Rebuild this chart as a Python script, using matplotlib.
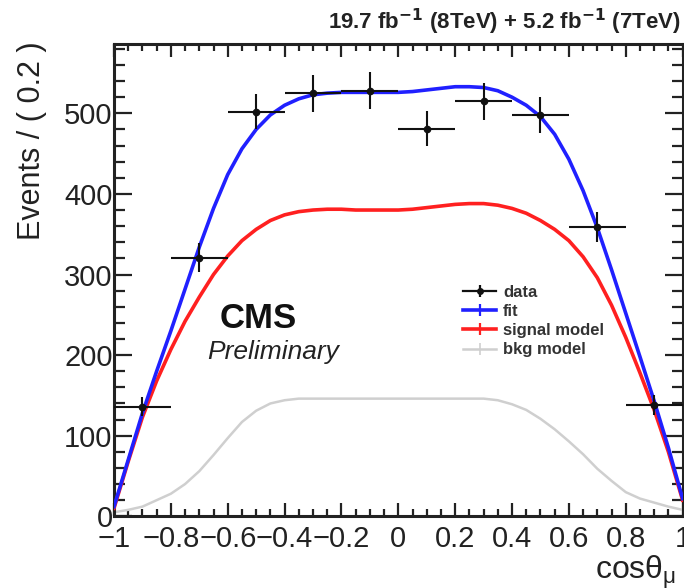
import matplotlib
matplotlib.use("Agg")
import matplotlib.pyplot as plt
from matplotlib.lines import Line2D
from matplotlib.ticker import MultipleLocator, FixedLocator, FixedFormatter
import numpy as np

plt.rcParams['font.family'] = ['Liberation Sans', 'DejaVu Sans']

# ---- data -----------------------------------------------------------
bin_centers = [-0.9, -0.7, -0.5, -0.3, -0.1, 0.1, 0.3, 0.5, 0.7, 0.9]
data_counts = [136, 321, 502, 525, 528, 481, 515, 498, 359, 138]
data_yerr = [12, 18, 22, 23, 23, 22, 23, 22, 19, 12]
bin_half_width = 0.1

curve_x = [-1.0, -0.95, -0.9, -0.85, -0.8, -0.75, -0.7, -0.65, -0.6, -0.55,
           -0.5, -0.45, -0.4, -0.35, -0.3, -0.25, -0.2, -0.15, -0.1, -0.05,
           0.0, 0.05, 0.1, 0.15, 0.2, 0.25, 0.3, 0.35, 0.4, 0.45,
           0.5, 0.55, 0.6, 0.65, 0.7, 0.75, 0.8, 0.85, 0.9, 0.95, 1.0]
fit_curve = [12, 70, 128, 180, 230, 282, 334, 382, 424, 456,
             480, 498, 510, 518, 523, 525, 526, 526, 526, 526,
             526, 527, 529, 531, 533, 533, 532, 528, 520, 510,
             496, 474, 443, 404, 358, 306, 252, 198, 143, 85, 22]
signal_curve = [10, 68, 123, 168, 207, 242, 272, 300, 323, 342,
                356, 367, 374, 378, 380, 381, 381, 380, 380, 380,
                380, 381, 383, 385, 387, 388, 388, 386, 382, 376,
                367, 356, 342, 322, 296, 262, 222, 178, 132, 80, 20]
bkg_curve = [5, 8, 12, 20, 28, 40, 56, 76, 97, 117,
             131, 140, 144, 146, 146, 146, 146, 146, 146, 146,
             146, 146, 146, 146, 146, 146, 146, 144, 139, 132,
             121, 108, 93, 77, 59, 44, 30, 22, 17, 12, 8]

xtick_vals = [-1, -0.8, -0.6, -0.4, -0.2, 0, 0.2, 0.4, 0.6, 0.8, 1]
xtick_labels = ["\u22121", "\u22120.8", "\u22120.6", "\u22120.4", "\u22120.2",
                "0", "0.2", "0.4", "0.6", "0.8", "1"]
ytick_vals = [0, 100, 200, 300, 400, 500]
ytick_labels = ["0", "100", "200", "300", "400", "500"]

legend_labels = ["data", "fit", "signal model", "bkg model"]
title_text = r"19.7 fb$^{\mathbf{-1}}$ (8TeV) + 5.2 fb$^{\mathbf{-1}}$ (7TeV)"

# ---- figure ---------------------------------------------------------
W, H = 684, 588
fig = plt.figure(figsize=(W / 100, H / 100), dpi=100)
ax = fig.add_axes([114 / W, 1 - 516.3 / H, (682.6 - 114) / W, (516.3 - 44) / H])

blue = '#2020ff'
red = '#ff2020'
grey = '#cfcfcf'

ax.plot(curve_x, bkg_curve, color=grey, lw=1.8, zorder=2)
ax.plot(curve_x, signal_curve, color=red, lw=2.6, zorder=3)
ax.plot(curve_x, fit_curve, color=blue, lw=2.6, zorder=4)
ax.errorbar(bin_centers, data_counts, yerr=data_yerr, xerr=bin_half_width,
            fmt='o', color='#111111', ms=4.5, elinewidth=1.5, capsize=0,
            zorder=5)

ax.set_xlim(-1, 1)
ax.set_ylim(0, 586)

ax.xaxis.set_major_locator(FixedLocator(xtick_vals))
ax.xaxis.set_major_formatter(FixedFormatter(xtick_labels))
ax.xaxis.set_minor_locator(MultipleLocator(0.05))
ax.yaxis.set_major_locator(FixedLocator(ytick_vals))
ax.yaxis.set_major_formatter(FixedFormatter(ytick_labels))
ax.yaxis.set_minor_locator(MultipleLocator(20))

ax.tick_params(which='both', direction='in', top=True, right=True,
               width=1.6, color='#222222', labelsize=21, labelcolor='#222222')
ax.tick_params(axis='x', which='major', length=9.5, pad=6)
ax.tick_params(axis='x', which='minor', length=5)
ax.tick_params(axis='y', which='major', length=13, pad=1)
ax.tick_params(axis='y', which='minor', length=8)
for s in ax.spines.values():
    s.set_linewidth(2.2)
    s.set_color('#222222')

# texts
fig.text(681 / W, 1 - 22 / H, title_text, ha='right', va='center',
         fontsize=16, fontweight='bold', color='#222222')
fig.text(32 / W, 1 - 41 / H, "Events / ( 0.2 )", rotation=90, ha='center',
         va='top', fontsize=22, color='#222222')
fig.text(676 / W, 1 - 572 / H, r"cos$\mathregular{\theta_{\mu}}$", ha='right',
         va='center', fontsize=23, color='#222222')
ax.text(220 / W, 1 - 318 / H, "CMS", transform=fig.transFigure, ha='left',
        va='center', fontsize=25, fontweight='bold', color='#111111')
ax.text(207 / W, 1 - 352 / H, "Preliminary", transform=fig.transFigure,
        ha='left', va='center', fontsize=19, style='italic', color='#222222')

# legend
h_data = (Line2D([], [], color='#111111', lw=1.6, marker='|', ms=8, mew=1.6),
          Line2D([], [], color='#111111', lw=0, marker='o', ms=4))
h_fit = Line2D([], [], color=blue, lw=2.6, marker='|', ms=8, mew=1.6)
h_sig = Line2D([], [], color=red, lw=2.6, marker='|', ms=8, mew=1.6)
h_bkg = Line2D([], [], color=grey, lw=1.8, marker='|', ms=8, mew=1.2)
leg = ax.legend([h_data, h_fit, h_sig, h_bkg], legend_labels,
                loc='upper left', bbox_to_anchor=(463 / W, 1 - 285 / H),
                bbox_transform=fig.transFigure, frameon=False,
                prop={'size': 12, 'weight': 'bold'},
                handlelength=2.0, handletextpad=0.4, labelspacing=0.25,
                borderpad=0, borderaxespad=0)
for t in leg.get_texts():
    t.set_color('#333333')

fig.savefig("out.png", dpi=100)
